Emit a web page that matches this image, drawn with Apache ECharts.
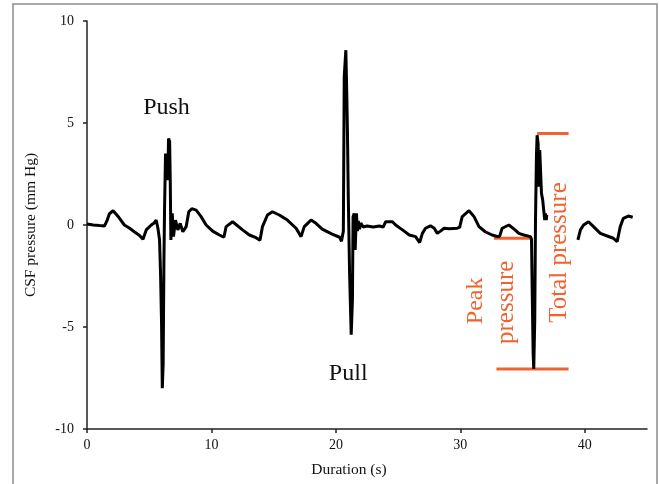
<!DOCTYPE html>
<html>
<head>
<meta charset="utf-8">
<script src="https://cdn.jsdelivr.net/npm/echarts@6/dist/echarts.min.js"></script>
<style>
html,body{margin:0;padding:0;background:#fff;}
#main{width:659px;height:484px;}
</style>
</head>
<body>
<div id="main"></div>
<script>
// CSF pressure trace
var timeSec = [0.0,0.5,1.0,1.4,1.6,1.8,2.1,2.5,3.0,3.4,3.8,4.2,4.5,4.76,5.16,5.4,5.56,5.7,5.83,5.91,5.99,6.05,6.12,6.18,6.23,6.31,6.42,6.5,6.55,6.64,6.69,6.74,6.85,6.95,7.11,7.3,7.49,7.7,7.97,8.18,8.42,8.77,9.17,9.57,10.1,10.64,11.0,11.18,11.7,12.5,13.05,13.58,13.9,14.1,14.5,14.9,15.45,16.1,16.8,17.2,17.46,18.0,18.4,18.9,19.7,20.3,20.45,20.6,20.67,20.8,20.88,20.93,21.0,21.1,21.23,21.33,21.38,21.47,21.55,21.65,21.73,21.8,21.9,22.0,22.2,22.5,23.0,23.5,23.8,24.0,24.55,24.8,25.35,25.9,26.4,26.73,26.95,27.2,27.6,27.9,28.15,28.4,28.7,29.1,29.75,29.95,30.15,30.7,31.1,31.5,32.0,32.55,32.9,33.15,33.36,33.9,34.4,34.7,35.1,35.64,35.72,35.77,35.85,35.9,35.98,36.04,36.12,36.17,36.25,36.3,36.38,36.45,36.52,36.62,36.7,36.78,36.84,36.9,36.95,38.0,39.45,39.65,39.9,40.3,40.7,41.25,41.8,42.3,42.6,42.85,43.1,43.5,43.85];
var pressure = [0.05,0.0,-0.03,-0.05,0.2,0.55,0.7,0.42,0.0,-0.15,-0.33,-0.5,-0.7,-0.24,0.0,0.1,0.24,-0.16,-0.73,-2.37,-4.8,-8.0,-6.8,-1.88,0.73,3.5,3.5,2.2,4.24,4.1,2.2,-0.73,0.57,-0.57,0.24,-0.24,0.08,-0.33,-0.08,0.65,0.8,0.73,0.41,0.0,-0.3,-0.49,-0.6,-0.08,0.16,-0.24,-0.49,-0.62,-0.75,-0.08,0.49,0.65,0.49,0.24,-0.16,-0.57,-0.08,0.24,0.08,-0.2,-0.45,-0.6,-0.8,-0.3,7.26,8.57,6.28,4.49,1.22,-2.35,-5.38,-3.67,0.41,0.57,-1.22,0.57,-0.3,0.2,-0.2,0.1,-0.1,-0.05,-0.1,-0.05,-0.1,0.16,0.16,0.0,-0.24,-0.49,-0.57,-0.86,-0.41,-0.16,-0.04,-0.16,-0.41,-0.3,-0.16,-0.18,-0.16,-0.1,0.41,0.7,0.41,-0.08,-0.33,-0.49,-0.55,-0.57,-0.16,0.0,-0.24,-0.41,-0.49,-0.57,-0.7,-3.0,-6.28,-7.06,-4.65,0.24,3.5,4.4,4.0,1.88,3.67,3.6,1.55,1.22,0.73,0.24,0.57,0.24,0.5,null,-0.73,-0.24,0.0,0.16,-0.08,-0.41,-0.54,-0.65,-0.82,-0.08,0.33,0.44,0.38];

var xTicks = [0,10,20,30,40];

// red brackets: [t, value] pairs
var peakTop = [[32.7,-0.65],[35.76,-0.65]];
var totalTop = [[36.17,4.49],[38.7,4.49]];
var bracketBottom = [[32.9,-7.06],[38.7,-7.06]];

// text labels anchored in data space
var labelText = ['Push','Pull','Peak','pressure','Total pressure'];
var labelAt = [[6.39,5.77],[20.99,-7.29],[31.25,-3.72],[33.7,-3.79],[37.99,-1.35]];
var labelRot = [0,0,90,90,90];
var labelSize = [24,24,24,25,25];
var labelColor = ['#111','#111','#F2622F','#F2622F','#F2622F'];

var serif = "'Liberation Serif','Times New Roman',serif";
var red = '#F2622F';

var chart = echarts.init(document.getElementById('main'));

var trace = [];
for (var i = 0; i < timeSec.length; i++) {
    trace.push([timeSec[i], pressure[i]]);
}

function redLine(d){
    return {
        type:'line', data:d, symbol:'none', silent:true,
        lineStyle:{color:red,width:3}, z:3
    };
}

var option = {
    animation:false,
    grid:{left:87,right:12,top:21,bottom:55},
    xAxis:{
        type:'value', min:0, max:45,
        name:'Duration (s)', nameLocation:'middle', nameGap:33,
        nameTextStyle:{fontFamily:serif,fontSize:15.5,color:'#111',padding:[0,36,0,0]},
        axisLine:{onZero:false,lineStyle:{color:'#222',width:1.5}},
        axisTick:{length:4,lineStyle:{color:'#222',width:1.5},customValues:xTicks},
        axisLabel:{fontFamily:serif,fontSize:14,color:'#111',margin:9,customValues:xTicks},
        splitLine:{show:false}
    },
    yAxis:{
        type:'value', min:-10, max:10, interval:5,
        name:'CSF pressure (mm Hg)', nameLocation:'middle', nameGap:48, nameRotate:90,
        nameTextStyle:{fontFamily:serif,fontSize:15.5,color:'#111'},
        axisLine:{show:true,onZero:false,lineStyle:{color:'#222',width:1.5}},
        axisTick:{show:true,length:4,lineStyle:{color:'#222',width:1.5}},
        axisLabel:{fontFamily:serif,fontSize:14,color:'#111',margin:13},
        splitLine:{show:false}
    },
    series:[
        {
            type:'line', data:trace, symbol:'none', connectNulls:false,
            lineStyle:{color:'#000',width:3}, z:4
        },
        redLine(peakTop),
        redLine(totalTop),
        redLine(bracketBottom)
    ]
};
chart.setOption(option);

// frame and labels placed through the chart's own scale
var g = [{
    type:'rect', shape:{x:13,y:4,width:644,height:500}, silent:true,
    style:{fill:'none',stroke:'#8c8c8c',lineWidth:1.5}
}];
for (var k = 0; k < labelText.length; k++) {
    var p = chart.convertToPixel({gridIndex:0}, labelAt[k]);
    g.push({
        type:'text', x:p[0], y:p[1], rotation:labelRot[k]*Math.PI/180, silent:true,
        style:{text:labelText[k],fontFamily:serif,fontSize:labelSize[k],fill:labelColor[k],
            align:'center',verticalAlign:'middle'}
    });
}
chart.setOption({graphic:g});
</script>
</body>
</html>
